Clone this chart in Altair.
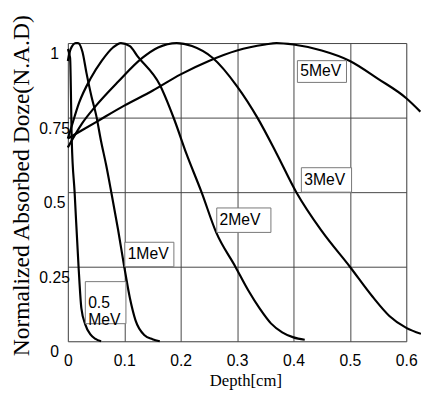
import altair as alt
import pandas as pd

# ---- data ----
x05 = [0, 0.004, 0.007, 0.012, 0.019, 0.024, 0.031, 0.040, 0.049, 0.059]
y05 = [0.98, 0.95, 0.67, 0.50, 0.25, 0.11, 0.056, 0.023, 0.008, 0.0]

x1 = [0, 0.005, 0.014, 0.018, 0.026, 0.033, 0.042, 0.050, 0.059, 0.068, 0.077, 0.089, 0.10, 0.11, 0.12, 0.136, 0.15, 0.163]
y1 = [0.94, 0.98, 1.0, 1.0, 0.97, 0.90, 0.82, 0.76, 0.67, 0.59, 0.50, 0.375, 0.25, 0.145, 0.07, 0.02, 0.007, 0.0]

x2 = [0, 0.005, 0.02, 0.04, 0.06, 0.08, 0.094, 0.11, 0.123, 0.163, 0.188, 0.21, 0.237, 0.263, 0.297, 0.32, 0.34, 0.36, 0.38, 0.40, 0.42]
y2 = [0.68, 0.71, 0.80, 0.88, 0.94, 0.985, 1.0, 0.99, 0.957, 0.86, 0.747, 0.63, 0.5, 0.365, 0.25, 0.17, 0.11, 0.06, 0.03, 0.013, 0.005]

x3 = [0, 0.025, 0.05, 0.089, 0.132, 0.16, 0.193, 0.22, 0.257, 0.3, 0.336, 0.37, 0.405, 0.45, 0.5, 0.54, 0.57, 0.6, 0.626]
y3 = [0.65, 0.73, 0.79, 0.87, 0.95, 0.985, 1.0, 0.99, 0.95, 0.855, 0.75, 0.63, 0.5, 0.37, 0.25, 0.15, 0.085, 0.045, 0.025]

x5 = [0, 0.05, 0.1, 0.15, 0.2, 0.25, 0.3, 0.35, 0.37, 0.4, 0.45, 0.5, 0.55, 0.6, 0.625]
y5 = [0.68, 0.735, 0.79, 0.84, 0.895, 0.94, 0.975, 0.995, 1.0, 0.995, 0.975, 0.94, 0.88, 0.815, 0.77]

series_names = ["0.5MeV", "1MeV", "2MeV", "3MeV", "5MeV"]
series_x = [x05, x1, x2, x3, x5]
series_y = [y05, y1, y2, y3, y5]

x_ticks = [0, 0.1, 0.2, 0.3, 0.4, 0.5, 0.6]
y_ticks = [0, 0.25, 0.5, 0.75, 1]

# label boxes (data units)
lab_text = ["5MeV", "3MeV", "2MeV", "1MeV", "0.5\nMeV"]
lab_x1 = [0.407, 0.414, 0.264, 0.101, 0.031]
lab_x2 = [0.494, 0.503, 0.360, 0.188, 0.103]
lab_y1 = [0.868, 0.500, 0.365, 0.250, 0.059]
lab_y2 = [0.941, 0.582, 0.447, 0.332, 0.200]

rows = []
for name, xs, ys in zip(series_names, series_x, series_y):
    for i, (a, b) in enumerate(zip(xs, ys)):
        rows.append({"series": name, "depth": a, "dose": b, "order": i})
df = pd.DataFrame(rows)

labels = pd.DataFrame({
    "text": lab_text, "x1": lab_x1, "x2": lab_x2, "y1": lab_y1, "y2": lab_y2,
})
labels["tx"] = labels["x1"] + 0.005
labels["ty"] = (labels["y1"] + labels["y2"]) / 2

xscale = alt.Scale(domain=[0, 0.6], nice=False, zero=False)
yscale = alt.Scale(domain=[0, 1], nice=False, zero=False)

xaxis = alt.Axis(values=x_ticks, format=".1~f", title="Depth[cm]", grid=True,
                 ticks=False, tickSize=0, domain=False,
                 labelFont="Liberation Sans", labelFontSize=16, labelColor="black",
                 labelBaseline="middle", labelPadding=20, labelAlign="center",
                 titleFont="Liberation Serif", titleFontSize=17, titleFontWeight="normal",
                 titleColor="black", titleX=181, titleY=45, titleBaseline="alphabetic",
                 titleAlign="center", gridColor="#444", gridWidth=1, gridOpacity=1)
yaxis = alt.Axis(values=y_ticks, format=".2~f", title="Normalized Absorbed Doze(N.A.D)",
                 grid=True, ticks=False, tickSize=0, domain=False,
                 labelFont="Liberation Sans", labelFontSize=16, labelColor="black",
                 labelAlign="center", labelBaseline="middle", labelPadding=14,
                 labelOffset=11,
                 titleFont="Liberation Serif", titleFontSize=24, titleFontWeight="normal",
                 titleColor="black", titleX=-47, titleY=145, titleAngle=-90,
                 titleBaseline="middle", titleAlign="center",
                 gridColor="#444", gridWidth=1, gridOpacity=1)

lines = alt.Chart(df).mark_line(color="black", strokeWidth=2.2, clip=False,
                                interpolate="monotone").encode(
    x=alt.X("depth:Q", scale=xscale, axis=xaxis),
    y=alt.Y("dose:Q", scale=yscale, axis=yaxis),
    detail="series:N",
    order="order:Q",
)

boxes = alt.Chart(labels).mark_rect(fill="white", stroke="#777", strokeWidth=1).encode(
    x=alt.X("x1:Q", scale=xscale), x2="x2:Q",
    y=alt.Y("y1:Q", scale=yscale), y2="y2:Q",
)

texts = alt.Chart(labels).mark_text(font="Liberation Sans", fontSize=16, color="black",
                                    align="left", baseline="middle", lineBreak="\n",
                                    lineHeight=18).encode(
    x=alt.X("tx:Q", scale=xscale), y=alt.Y("ty:Q", scale=yscale), text="text:N",
)

chart = alt.layer(lines, boxes, texts).properties(
    width=345, height=304,
    autosize=alt.AutoSizeParams(type="none"),
    padding={"left": 61, "top": 32, "right": 15, "bottom": 49},
).configure_view(stroke="#222", strokeWidth=1.2).configure(background="white")

chart.save("out.html", embed_options={"renderer": "svg", "actions": False})
